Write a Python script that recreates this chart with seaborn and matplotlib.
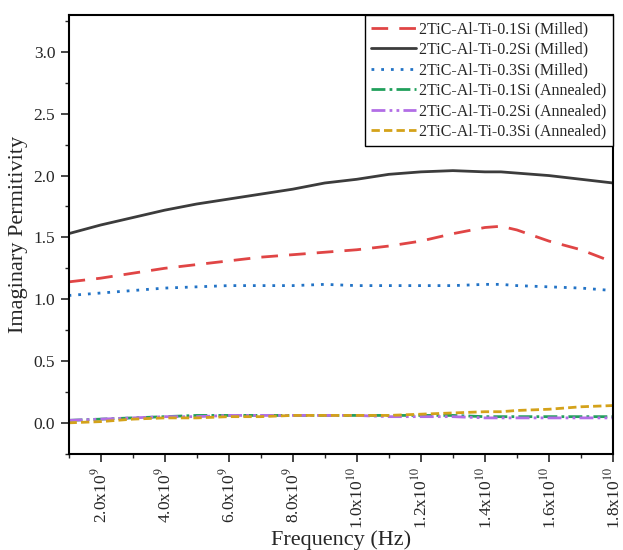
import matplotlib
matplotlib.use("Agg")
import matplotlib.pyplot as plt
import matplotlib.ticker as mticker
import seaborn as sns
import pandas as pd
import numpy as np

# frequency points (Hz)
freq = [1e9, 2e9, 3e9, 4e9, 5e9, 6e9, 7e9, 8e9, 9e9, 1.0e10, 1.1e10, 1.2e10,
        1.3e10, 1.4e10, 1.45e10, 1.5e10, 1.6e10, 1.7e10, 1.8e10]

# imaginary permittivity per sample
si01_milled = [1.14, 1.17, 1.21, 1.25, 1.28, 1.31, 1.34, 1.36, 1.38, 1.40, 1.43, 1.47,
               1.53, 1.58, 1.59, 1.56, 1.47, 1.40, 1.30]
si02_milled = [1.53, 1.60, 1.66, 1.72, 1.77, 1.81, 1.85, 1.89, 1.94, 1.97, 2.01, 2.03,
               2.04, 2.03, 2.03, 2.02, 2.00, 1.97, 1.94]
si03_milled = [1.03, 1.05, 1.07, 1.09, 1.10, 1.11, 1.11, 1.11, 1.12, 1.11, 1.11, 1.11,
               1.11, 1.12, 1.12, 1.11, 1.10, 1.09, 1.07]
si01_annealed = [0.02, 0.03, 0.04, 0.05, 0.06, 0.06, 0.06, 0.06, 0.06, 0.06, 0.06, 0.06,
                 0.06, 0.05, 0.05, 0.05, 0.05, 0.05, 0.05]
si02_annealed = [0.02, 0.03, 0.04, 0.05, 0.05, 0.06, 0.06, 0.06, 0.06, 0.06, 0.05, 0.05,
                 0.05, 0.04, 0.04, 0.04, 0.04, 0.04, 0.04]
si03_annealed = [0.00, 0.01, 0.03, 0.04, 0.04, 0.05, 0.05, 0.06, 0.06, 0.06, 0.06, 0.07,
                 0.08, 0.09, 0.09, 0.10, 0.11, 0.13, 0.14]

labels = ['2TiC-Al-Ti-0.1Si (Milled)', '2TiC-Al-Ti-0.2Si (Milled)', '2TiC-Al-Ti-0.3Si (Milled)',
          '2TiC-Al-Ti-0.1Si (Annealed)', '2TiC-Al-Ti-0.2Si (Annealed)', '2TiC-Al-Ti-0.3Si (Annealed)']
series = [si01_milled, si02_milled, si03_milled, si01_annealed, si02_annealed, si03_annealed]
colors = ['#e04545', '#3c3c3c', '#2273c6', '#21a05c', '#b26ee6', '#d4a21a']
styles = [(0, (6, 4)), '-', (0, (1, 2.5)), (0, (5, 1.5, 1, 1.5)), (0, (5, 1.5, 1, 1.5, 1, 1.5)), (0, (3, 1.5))]

sns.set_style("white")
plt.rcParams['font.family'] = ['Liberation Serif', 'DejaVu Serif']
plt.rcParams['mathtext.fontset'] = 'stix'

fig = plt.figure(figsize=(6.23, 5.5), dpi=100)
ax = fig.add_axes([0.11, 0.175, 0.874, 0.798])

for lab, vals, c, ls in zip(labels, series, colors, styles):
    df = pd.DataFrame({'Frequency': freq, 'Value': vals})
    sns.lineplot(data=df, x='Frequency', y='Value', ax=ax, color=c, label=lab, linewidth=2)
    ax.lines[-1].set_linestyle(ls)

ax.set_xlim(1e9, 1.8e10)
ax.set_ylim(-0.25, 3.3)
ax.xaxis.set_major_locator(mticker.FixedLocator(np.arange(2e9, 1.81e10, 2e9)))
ax.xaxis.set_minor_locator(mticker.FixedLocator(np.arange(1e9, 1.81e10, 1e9)))
ax.yaxis.set_major_locator(mticker.MultipleLocator(0.5))
ax.yaxis.set_minor_locator(mticker.MultipleLocator(0.25))

def fmt(v, pos):
    if v <= 0:
        return ''
    e = int(np.floor(np.log10(v) + 1e-9))
    m = v / 10 ** e
    return r'%.1fx10$^{%d}$' % (m, e)

ax.xaxis.set_major_formatter(mticker.FuncFormatter(fmt))
ax.yaxis.set_major_formatter(mticker.FormatStrFormatter('%.1f'))
ax.tick_params(axis='x', labelrotation=90)
ax.tick_params(which='major', direction='out', length=6, width=1.2, labelsize=12.5, bottom=True, left=True)
ax.tick_params(which='minor', direction='out', length=3, width=1.0, bottom=True, left=True)

for sp in ax.spines.values():
    sp.set_color('black')
    sp.set_linewidth(1.5)

ax.set_xlabel('Frequency (Hz)', fontsize=16, labelpad=1)
ax.set_ylabel('Imaginary Permitivity', fontsize=16, labelpad=4)

leg = ax.legend(loc='upper right', fontsize=11.5, frameon=True, fancybox=False,
                edgecolor='black', framealpha=1, handlelength=2.8, borderpad=0.4,
                labelspacing=0.28, handletextpad=0.2, borderaxespad=0.0)
leg.get_frame().set_linewidth(1.0)

fig.savefig('out.png', dpi=100)
